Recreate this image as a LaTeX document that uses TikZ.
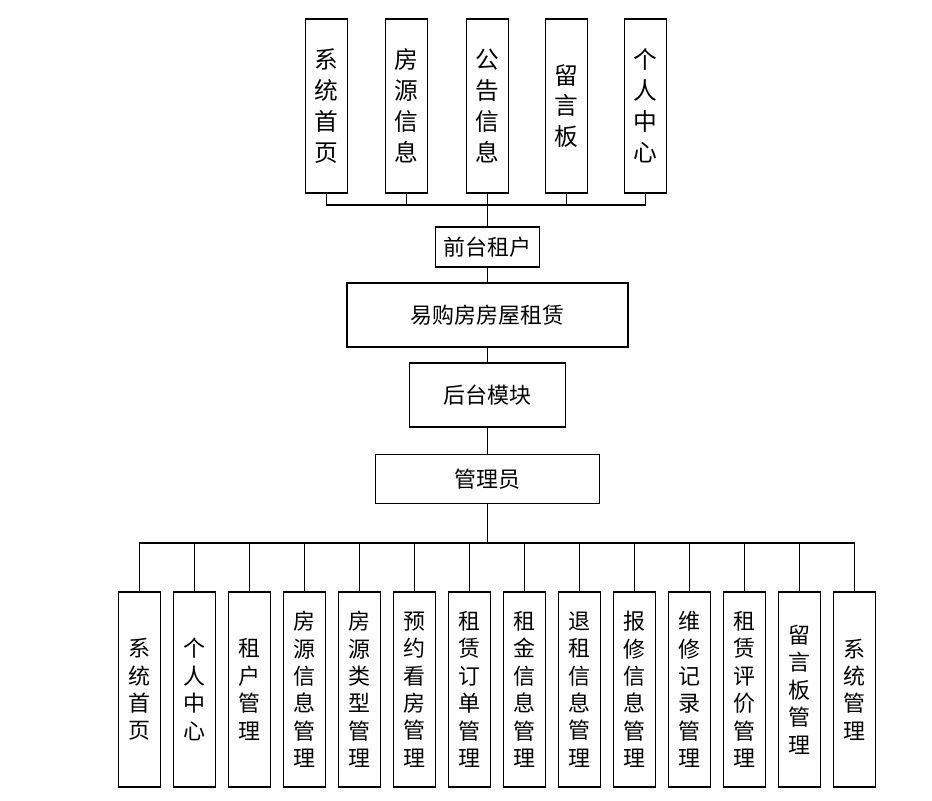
\documentclass[tikz,border=0pt]{standalone}
\usepackage{fontspec}
\setmainfont{Noto Sans CJK SC}
\usetikzlibrary{positioning}

\begin{document}
\begin{tikzpicture}[
    topbox/.style={rectangle, draw, line width=0.9pt, minimum width=0.84cm, minimum height=3.48cm, inner sep=0pt, align=center, font=\fontsize{13.5}{17.6}\selectfont},
    subbox/.style={rectangle, draw, line width=0.9pt, minimum width=0.84cm, minimum height=3.9cm, inner sep=0pt, align=center, font=\fontsize{12.5}{15.6}\selectfont},
    midbox/.style={rectangle, draw, line width=0.9pt, inner sep=0pt, align=center, font=\fontsize{12.5}{14}\selectfont},
    link/.style={line width=0.8pt},
]
\useasboundingbox (0,0) rectangle (18.64,-16.02);

% ====== Front end (tenant) ======
\node[topbox] (fHome) at (6.53, -2.12) {系\\统\\首\\页};
\node[topbox] (fHouse) at (8.13, -2.12) {房\\源\\信\\息};
\node[topbox] (fNotice) at (9.75, -2.12) {公\\告\\信\\息};
\node[topbox] (fBoard) at (11.33, -2.12) {留\\言\\板};
\node[topbox] (fMine) at (12.91, -2.12) {个\\人\\中\\心};

\node[midbox, minimum width=2.08cm, minimum height=0.8cm] (tenant) at (9.75, -4.94) {前台租户};
\coordinate (topBus) at (9.75, -4.1);

% ====== Middle chain ======
\node[midbox, minimum width=5.62cm, minimum height=1.28cm] (sys) at (9.75, -6.3) {易购房房屋租赁};
\node[midbox, minimum width=3.12cm, minimum height=1.28cm] (back) at (9.75, -7.9) {后台模块};
\node[midbox, minimum width=4.48cm, minimum height=0.98cm] (admin) at (9.75, -9.58) {管理员};
\coordinate (botBus) at (9.75, -10.86);

% ====== Back end (admin) ======
\node[subbox] (aHome) at (2.79, -13.79) {系\\统\\首\\页};
\node[subbox] (aMine) at (3.89, -13.79) {个\\人\\中\\心};
\node[subbox] (aTenant) at (4.99, -13.79) {租\\户\\管\\理};
\node[subbox] (aHouse) at (6.09, -13.79) {房\\源\\信\\息\\管\\理};
\node[subbox] (aType) at (7.19, -13.79) {房\\源\\类\\型\\管\\理};
\node[subbox] (aVisit) at (8.29, -13.79) {预\\约\\看\\房\\管\\理};
\node[subbox] (aOrder) at (9.39, -13.79) {租\\赁\\订\\单\\管\\理};
\node[subbox] (aRent) at (10.49, -13.79) {租\\金\\信\\息\\管\\理};
\node[subbox] (aQuit) at (11.59, -13.79) {退\\租\\信\\息\\管\\理};
\node[subbox] (aRepair) at (12.69, -13.79) {报\\修\\信\\息\\管\\理};
\node[subbox] (aFix) at (13.79, -13.79) {维\\修\\记\\录\\管\\理};
\node[subbox] (aRate) at (14.89, -13.79) {租\\赁\\评\\价\\管\\理};
\node[subbox] (aBoard) at (15.99, -13.79) {留\\言\\板\\管\\理};
\node[subbox] (aSys) at (17.09, -13.79) {系\\统\\管\\理};

% ====== Connectors ======
\draw[link] (fHome.south) |- (topBus);
\draw[link] (fHouse.south) |- (topBus);
\draw[link] (fNotice.south) -- (topBus);
\draw[link] (fBoard.south) |- (topBus);
\draw[link] (fMine.south) |- (topBus);
\draw[link] (topBus) -- (tenant.north);

\draw[link] (tenant) -- (sys);
\draw[link] (sys) -- (back);
\draw[link] (back) -- (admin);
\draw[link] (admin.south) -- (botBus);

\draw[link] (aHome.north) |- (botBus);
\draw[link] (aMine.north) |- (botBus);
\draw[link] (aTenant.north) |- (botBus);
\draw[link] (aHouse.north) |- (botBus);
\draw[link] (aType.north) |- (botBus);
\draw[link] (aVisit.north) |- (botBus);
\draw[link] (aOrder.north) |- (botBus);
\draw[link] (aRent.north) |- (botBus);
\draw[link] (aQuit.north) |- (botBus);
\draw[link] (aRepair.north) |- (botBus);
\draw[link] (aFix.north) |- (botBus);
\draw[link] (aRate.north) |- (botBus);
\draw[link] (aBoard.north) |- (botBus);
\draw[link] (aSys.north) |- (botBus);

\end{tikzpicture}
\end{document}
